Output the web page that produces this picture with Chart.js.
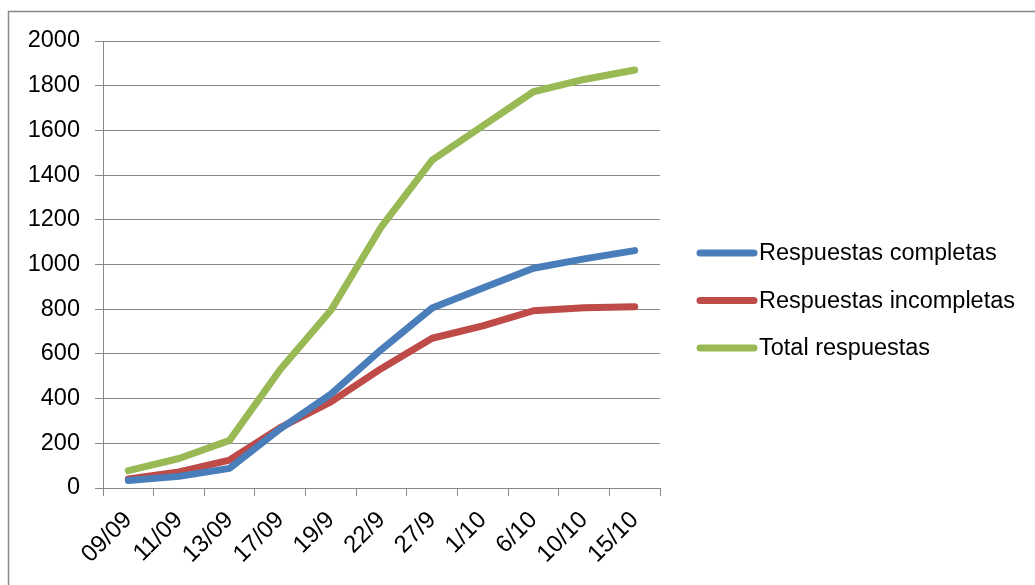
<!DOCTYPE html>
<html>
<head>
<meta charset="utf-8">
<script src="https://cdn.jsdelivr.net/npm/chart.js@4/dist/chart.umd.min.js"></script>
<style>
html,body{margin:0;padding:0;background:#fff;}
#wrap{position:relative;width:1035px;height:585px;}
</style>
</head>
<body>
<div id="wrap"><canvas id="c" width="1035" height="585"></canvas></div>
<script>
const categories = ['09/09','11/09','13/09','17/09','19/9','22/9','27/9','1/10','6/10','10/10','15/10'];
const completas = [34, 52, 88, 265, 420, 620, 805, 895, 983, 1025, 1062];
const incompletas = [40, 72, 125, 270, 385, 535, 670, 725, 793, 806, 811];
const total = [78, 132, 213, 530, 795, 1170, 1467, 1620, 1773, 1828, 1870];
const seriesNames = ['Respuestas completas','Respuestas incompletas','Total respuestas'];
const yTicks = {min: 0, max: 2000, step: 200};

const FONT = 'Liberation Sans';
const GRID = '#898989';

const frame = {
  id: 'frame',
  beforeDraw(chart) {
    const ctx = chart.ctx;
    ctx.save();
    ctx.fillStyle = '#fff';
    ctx.fillRect(0, 0, chart.width, chart.height);
    ctx.strokeStyle = GRID;
    ctx.lineWidth = 1.5;
    ctx.beginPath();
    ctx.moveTo(8.5, chart.height);
    ctx.lineTo(8.5, 11.5);
    ctx.lineTo(chart.width, 11.5);
    ctx.stroke();
    ctx.restore();
  }
};

const sideLegend = {
  id: 'sideLegend',
  afterDraw(chart) {
    const ctx = chart.ctx;
    ctx.save();
    ctx.font = '23.5px "' + FONT + '"';
    ctx.textBaseline = 'middle';
    ctx.textAlign = 'left';
    chart.data.datasets.forEach((ds, i) => {
      const y = 253 + i * 47.5;
      ctx.strokeStyle = ds.borderColor;
      ctx.lineWidth = 7;
      ctx.lineCap = 'round';
      ctx.beginPath();
      ctx.moveTo(700, y);
      ctx.lineTo(754, y);
      ctx.stroke();
      ctx.fillStyle = '#000';
      ctx.fillText(ds.label, 759, y + 1);
    });
    ctx.restore();
  }
};

function line(label, data, color) {
  return {
    label, data,
    borderColor: color, backgroundColor: color,
    borderWidth: 7, pointRadius: 0, pointHoverRadius: 0,
    tension: 0, borderJoinStyle: 'round', borderCapStyle: 'round', fill: false
  };
}

new Chart(document.getElementById('c'), {
  type: 'line',
  data: {
    labels: categories,
    datasets: [
      line(seriesNames[0], completas, '#4A7EBB'),
      line(seriesNames[1], incompletas, '#BE4B48'),
      line(seriesNames[2], total, '#98B954')
    ]
  },
  options: {
    responsive: false,
    animation: false,
    events: [],
    layout: {padding: {top: 41, right: 375, left: 8, bottom: 0}},
    plugins: {legend: {display: false}, tooltip: {enabled: false}},
    scales: {
      x: {
        type: 'category',
        offset: true,
        grid: {offset: true, drawOnChartArea: false, drawTicks: true, tickLength: 8, color: GRID, lineWidth: 1},
        border: {display: true, color: GRID, width: 1},
        ticks: {color: '#000', font: {family: FONT, size: 24}, minRotation: 45, maxRotation: 45, padding: 10, autoSkip: false},
        afterFit(scale) { scale.height = 97; }
      },
      y: {
        min: yTicks.min, max: yTicks.max,
        grid: {drawTicks: true, tickLength: 8, color: GRID, lineWidth: 1},
        border: {display: true, color: GRID, width: 1},
        ticks: {stepSize: yTicks.step, color: '#000', font: {family: FONT, size: 23.5}, padding: 15,
          callback: (v) => String(v)},
        afterFit(scale) { scale.width = 95; }
      }
    }
  },
  plugins: [frame, sideLegend]
});
</script>
</body>
</html>
